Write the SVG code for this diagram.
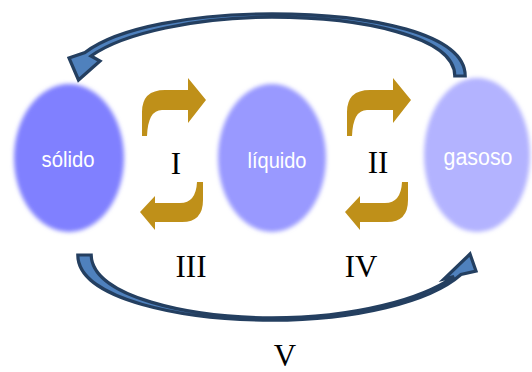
<svg xmlns="http://www.w3.org/2000/svg" width="532" height="372" viewBox="0 0 532 372">
<defs>
<filter id="soft" x="-20%" y="-20%" width="140%" height="140%"><feGaussianBlur stdDeviation="2.2"/></filter>
<style>
.lbl{font-family:"Liberation Sans",Arial,sans-serif;fill:#ffffff;text-anchor:middle}
.num{font-family:"Liberation Serif","Times New Roman",serif;font-size:31px;fill:#000000;text-anchor:middle}
.gold{fill:#bf9019}
.big{fill:#4f81bd;stroke:#243f60;stroke-width:3.2;stroke-linejoin:miter;stroke-miterlimit:4}
</style>
</defs>
<rect width="532" height="372" fill="#ffffff"/>
<g id="solido">
<ellipse cx="69" cy="158" rx="55" ry="74" fill="#8080ff" filter="url(#soft)"/>
<text class="lbl" x="68" y="167" font-size="22" textLength="53" lengthAdjust="spacingAndGlyphs">sólido</text>
</g>
<g id="liquido">
<ellipse cx="272" cy="158" rx="54" ry="74" fill="#9999ff" filter="url(#soft)"/>
<text class="lbl" x="277" y="168" font-size="22" textLength="59" lengthAdjust="spacingAndGlyphs">líquido</text>
</g>
<g id="gasoso">
<ellipse cx="477" cy="155" rx="53" ry="77" fill="#b3b3ff" filter="url(#soft)"/>
<text class="lbl" x="478" y="165" font-size="23" textLength="69" lengthAdjust="spacingAndGlyphs">gasoso</text>
</g>
<g id="connectors">
<path class="gold" d="M142,136 L142,112 Q142,90 165,90 L188,90 L188,78 L206,100 L188,123 L188,110 L162,110 Q148,110 147,136 Z"/>
<path class="gold" d="M203,182 L203,200 Q203,222 182,222 L155,222 L155,230 L140,212 L155,196 L155,203 L180,203 Q196,203 197,182 Z"/>
<path class="gold" transform="translate(205,0)" d="M142,136 L142,112 Q142,90 165,90 L188,90 L188,78 L206,100 L188,123 L188,110 L162,110 Q148,110 147,136 Z"/>
<path class="gold" transform="translate(205,0)" d="M203,182 L203,200 Q203,222 182,222 L155,222 L155,230 L140,212 L155,196 L155,203 L180,203 Q196,203 197,182 Z"/>
<path class="big" d="M465.2,76 C465.2,34 372,13.8 272,13.8 C195,13.8 118,27 85,52.5 L69,58 L78.5,80 L100,61 L91,56 C123,33 197,17.2 272,17.2 C360,17.2 454.8,36 454.8,76 Z"/>
<path class="big" d="M77.8,255 C77.8,300 185,320.2 272,320.2 C355,320.2 430,302 461,274.5 L476,271 L470,254 L444,279 L454,276.5 C422,299 355,317.8 272,317.8 C190,317.8 92,297 91.2,255 Z"/>
</g>
<g id="labels">
<text class="num" x="176" y="174">I</text>
<text class="num" x="378" y="173">II</text>
<text class="num" x="191" y="277">III</text>
<text class="num" x="361" y="277">IV</text>
<text class="num" x="285" y="366" font-size="28">V</text>
</g>
</svg>
